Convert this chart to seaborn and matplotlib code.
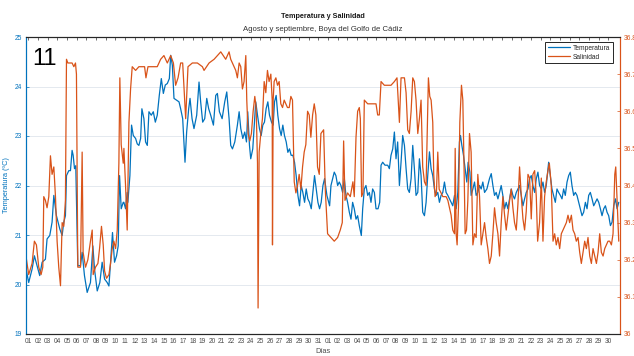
import numpy as np
import pandas as pd
import matplotlib
matplotlib.use("Agg")
import matplotlib.pyplot as plt
from matplotlib.lines import Line2D
import seaborn as sns

# ---- data (days since 01 Aug) ----
temp_day = [-0.31, 0.03, 0.38, 0.62, 0.90, 1.17, 1.42, 1.76, 1.93, 2.21, 2.45, 2.63, 2.90, 3.25, 3.49,
            3.66, 3.83, 3.94, 4.18, 4.35, 4.52, 4.63, 4.77, 4.90, 5.11, 5.39, 5.56, 5.80, 6.08, 6.42,
            6.67, 6.84, 7.12, 7.39, 7.63, 7.88, 8.15, 8.33, 8.50, 8.70, 8.91, 9.12, 9.29, 9.43, 9.60,
            9.81, 9.88, 10.05, 10.22, 10.29, 10.50, 10.67, 10.85, 11.09, 11.26, 11.43, 11.61, 11.74,
            11.95, 12.12, 12.30, 12.47, 12.71, 12.92, 13.13, 13.33, 13.54, 13.75, 13.96, 14.16, 14.37,
            14.58, 14.72, 14.89, 15.06, 15.58, 15.75, 15.96, 16.20, 16.37, 16.58, 16.72, 16.93, 17.13,
            17.41, 17.65, 17.82, 18.03, 18.24, 18.45, 18.65, 18.86, 19.14, 19.38, 19.55, 19.76, 20.04,
            20.31, 20.52, 20.76, 20.93, 21.11, 21.35, 21.62, 21.80, 21.97, 22.18, 22.38, 22.56, 22.69,
            22.87, 23.00, 23.21, 23.38, 23.52, 23.70, 23.90, 24.08, 24.25, 24.42, 24.59, 24.77, 24.94,
            25.15, 25.32, 25.46, 25.63, 25.80, 25.98, 26.15, 26.32, 26.49, 26.67, 26.84, 27.01, 27.18,
            27.36, 27.53, 27.70, 27.88, 28.05, 28.22, 28.39, 28.57, 28.74, 28.91, 29.08, 29.26, 29.43,
            29.60, 29.77, 29.95, 30.12, 30.29, 30.47, 30.64, 30.88, 31.16, 31.30, 31.64, 31.81, 31.99,
            32.16, 32.33, 32.50, 32.68, 32.85, 33.02, 33.20, 33.37, 33.54, 33.71, 33.89, 34.06, 34.23,
            34.44, 34.58, 34.75, 34.92, 35.10, 35.27, 35.44, 35.61, 35.79, 35.96, 36.17, 36.34, 36.48,
            36.65, 36.89, 37.17, 37.34, 37.51, 37.69, 37.86, 38.03, 38.20, 38.38, 38.55, 38.72, 38.90,
            39.07, 39.24, 39.41, 39.59, 39.76, 39.93, 40.10, 40.28, 40.45, 40.62, 40.79, 40.97, 41.14,
            41.31, 41.49, 41.66, 41.83, 42.00, 42.18, 42.35, 42.52, 42.69, 42.87, 43.04, 43.21, 43.39,
            43.56, 43.73, 43.90, 44.08, 44.25, 44.42, 44.59, 44.70, 44.84, 45.01, 45.18, 45.35, 45.49,
            45.67, 45.80, 45.98, 46.15, 46.32, 46.49, 46.67, 46.84, 47.01, 47.19, 47.43, 47.70, 47.88,
            48.05, 48.22, 48.39, 48.57, 48.74, 48.91, 49.08, 49.26, 49.43, 49.60, 49.78, 49.95, 50.12,
            50.29, 50.47, 50.64, 50.81, 50.99, 51.16, 51.33, 51.50, 51.68, 51.85, 52.02, 52.19, 52.37,
            52.54, 52.71, 52.88, 53.06, 53.23, 53.40, 53.57, 53.82, 53.99, 54.16, 54.33, 54.51, 54.68,
            54.85, 55.03, 55.20, 55.37, 55.54, 55.72, 55.89, 56.06, 56.23, 56.41, 56.58, 56.75, 56.93,
            57.10, 57.27, 57.44, 57.62, 57.79, 57.96, 58.13, 58.31, 58.48, 58.65, 58.83, 59.00, 59.17,
            59.34, 59.52, 59.69, 59.86, 60.03, 60.21, 60.38, 60.55, 60.73, 60.90, 61.07]
temp_val = [20.38, 20.04, 20.31, 20.58, 20.38, 20.18, 20.45, 20.51, 20.92, 20.99, 21.26, 21.80, 21.39, 21.12, 20.99,
            21.26, 21.39, 22.20, 22.30, 22.30, 22.71, 22.61, 22.34, 22.40, 20.38, 20.38, 20.65, 20.18, 19.84, 20.04,
            20.78, 20.31, 19.87, 20.04, 20.45, 20.11, 20.04, 19.97, 20.45, 21.05, 20.45, 20.58, 20.78, 22.20, 21.53,
            21.66, 21.66, 21.53, 21.86, 21.66, 22.20, 23.22, 23.01, 22.95, 22.84, 22.81, 22.95, 23.55,
            23.35, 22.88, 22.81, 23.49, 23.42, 23.49, 23.28, 23.42, 23.82, 24.16, 23.86, 24.03, 24.06,
            24.16, 24.63, 24.43, 23.76, 23.69, 23.55, 23.35, 22.47, 23.08, 23.55, 23.76, 23.35, 23.15,
            23.42, 24.09, 23.69, 23.28, 23.35, 23.76, 23.55, 23.42, 23.22, 23.82, 23.86, 23.49, 23.35,
            23.69, 23.89, 23.35, 22.81, 22.74, 22.88, 23.22, 23.49, 23.15, 22.95, 23.08, 22.88, 23.49,
            22.81, 22.54, 22.74, 23.28, 23.69, 23.42, 23.15, 23.01, 23.22, 23.28, 23.55, 23.69, 23.42,
            23.28, 23.22, 23.69, 23.82, 23.42, 23.15, 23.01, 23.22, 23.01, 22.88, 22.67, 22.74, 22.61,
            22.61, 22.47, 22.20, 21.80, 21.59, 22.00, 21.86, 21.66, 21.93, 21.73, 21.66, 21.53, 21.86,
            22.20, 21.93, 21.66, 21.53, 21.66, 22.00, 22.14, 21.80, 21.59, 22.00, 22.27, 22.20, 22.00,
            22.07, 22.00, 21.86, 22.14, 21.80, 21.66, 21.46, 21.32, 21.66, 21.53, 21.32, 21.39, 21.19,
            20.99, 21.53, 21.93, 22.00, 21.80, 21.86, 21.66, 21.93, 21.86, 21.53, 21.53, 21.66, 22.41,
            22.47, 22.41, 22.41, 22.34, 22.61, 22.74, 23.08, 22.54, 22.88, 22.00, 22.47, 23.01, 22.81,
            22.34, 21.93, 21.86, 22.14, 22.81, 22.34, 21.80, 21.86, 22.54, 22.20, 21.46, 21.39, 21.66,
            22.20, 22.68, 22.34, 22.20, 21.93, 21.80, 21.86, 21.66, 21.80, 21.86, 22.07, 21.86, 21.80,
            21.73, 21.66, 21.59, 21.80, 21.53, 21.86, 22.88, 23.01, 22.81, 22.61, 22.34, 22.07, 22.47,
            22.27, 21.80, 21.93, 22.07, 21.80, 21.86, 22.00, 21.93, 22.07, 21.86, 21.93, 22.14, 22.24,
            22.00, 21.80, 21.86, 21.73, 21.86, 22.00, 21.80, 21.53, 21.66, 21.53, 21.73, 21.93, 21.80,
            21.73, 21.86, 21.93, 22.00, 21.80, 21.59, 21.73, 21.86, 21.93, 22.14, 22.20, 22.00, 21.86,
            22.14, 22.27, 22.00, 21.93, 22.07, 21.86, 22.00, 22.47, 22.20, 21.93, 21.80, 21.66, 21.93,
            21.86, 21.80, 21.73, 21.93, 21.80, 22.07, 22.20, 22.27, 22.00, 21.80, 21.86, 21.80, 21.66,
            21.53, 21.39, 21.46, 21.66, 21.53, 21.80, 21.86, 21.73, 21.59, 21.66, 21.73, 21.66, 21.53,
            21.39, 21.53, 21.59, 21.46, 21.39, 21.19, 21.26, 21.59, 21.73, 21.53, 21.66]

sal_day = [-0.31, 0.03, 0.38, 0.62, 0.83, 1.07, 1.31, 1.49, 1.59, 1.76, 1.93, 2.11, 2.28, 2.45, 2.63,
           2.80, 2.97, 3.14, 3.32, 3.49, 3.66, 3.83, 3.94, 4.08, 4.35, 4.52, 4.70, 4.87, 4.97, 5.11,
           5.39, 5.56, 5.66, 5.91, 6.15, 6.42, 6.60, 6.70, 6.94, 7.19, 7.36, 7.56, 7.74, 7.88, 8.08,
           8.33, 8.50, 8.67, 8.84, 9.02, 9.19, 9.36, 9.46, 9.60, 9.81, 9.88, 10.05, 10.22, 10.40,
           10.57, 10.74, 11.09, 11.43, 11.78, 12.02, 12.16, 12.37, 12.81, 13.33, 13.68, 14.02, 14.37,
           14.72, 15.00, 15.23, 15.48, 15.75, 15.96, 16.27, 16.51, 16.96, 17.48, 18.00, 18.17, 18.69,
           19.21, 19.55, 19.90, 20.41, 20.76, 20.93, 21.28, 21.45, 21.62, 21.80, 21.97, 22.14, 22.31,
           22.49, 22.59, 22.73, 22.90, 23.07, 23.25, 23.42, 23.56, 23.70, 23.76, 23.87, 24.04, 24.21,
           24.39, 24.56, 24.73, 24.90, 25.08, 25.22, 25.25, 25.32, 25.42, 25.60, 25.77, 25.94, 26.11,
           26.29, 26.46, 26.63, 26.80, 26.98, 27.15, 27.32, 27.50, 27.67, 27.84, 28.01, 28.19, 28.36,
           28.53, 28.70, 28.88, 29.05, 29.22, 29.40, 29.57, 29.74, 29.91, 30.09, 30.26, 30.54, 30.71,
           30.95, 31.30, 31.64, 31.99, 32.26, 32.47, 32.61, 32.75, 33.02, 33.30, 33.57, 33.71, 33.89,
           34.06, 34.23, 34.34, 34.47, 34.61, 34.75, 35.10, 35.44, 35.79, 35.96, 36.13, 36.30, 36.48,
           36.82, 37.17, 37.51, 37.86, 38.13, 38.38, 38.55, 38.90, 39.07, 39.24, 39.41, 39.59, 39.76,
           39.93, 40.10, 40.28, 40.45, 40.62, 40.79, 40.97, 41.14, 41.38, 41.52, 41.66, 41.83, 41.93,
           42.07, 42.21, 42.35, 42.49, 42.69, 42.87, 43.04, 43.21, 43.39, 43.56, 43.73, 43.90, 44.08,
           44.15, 44.25, 44.35, 44.49, 44.63, 44.80, 44.94, 45.08, 45.18, 45.32, 45.46, 45.63, 45.80,
           45.98, 46.15, 46.32, 46.49, 46.67, 46.84, 47.01, 47.19, 47.36, 47.53, 47.70, 47.88, 48.05,
           48.22, 48.39, 48.57, 48.74, 48.91, 49.08, 49.26, 49.43, 49.60, 49.78, 49.95, 50.12, 50.29,
           50.47, 50.64, 50.81, 50.99, 51.16, 51.33, 51.50, 51.68, 51.85, 52.02, 52.19, 52.37, 52.54,
           52.68, 52.88, 53.06, 53.23, 53.40, 53.57, 53.75, 53.89, 54.09, 54.27, 54.44, 54.61, 54.78,
           54.96, 55.13, 55.30, 55.47, 55.65, 55.82, 55.99, 56.17, 56.34, 56.51, 56.68, 56.86, 57.03,
           57.20, 57.37, 57.55, 57.72, 57.89, 58.07, 58.24, 58.41, 58.58, 58.76, 58.93, 59.10, 59.27,
           59.45, 59.62, 59.79, 59.96, 60.14, 60.31, 60.48, 60.66, 60.76, 60.90, 61.07]
sal_val = [36.22, 36.16, 36.19, 36.25, 36.24, 36.18, 36.16, 36.18, 36.37, 36.36, 36.34, 36.37, 36.48, 36.43, 36.45,
           36.37, 36.25, 36.18, 36.13, 36.30, 36.29, 36.36, 36.74, 36.73, 36.73, 36.73, 36.72, 36.73, 36.70, 36.18,
           36.18, 36.49, 36.22, 36.18, 36.20, 36.25, 36.28, 36.16, 36.18, 36.19, 36.23, 36.29, 36.24, 36.17, 36.15,
           36.16, 36.19, 36.23, 36.25, 36.23, 36.28, 36.46, 36.69, 36.51, 36.46, 36.50, 36.40, 36.28, 36.57,
           36.66, 36.72, 36.71, 36.72, 36.72, 36.72, 36.69, 36.72, 36.72, 36.72, 36.74, 36.75, 36.73,
           36.75, 36.73, 36.67, 36.69, 36.73, 36.73, 36.58, 36.72, 36.73, 36.73, 36.72, 36.71, 36.73,
           36.74, 36.75, 36.76, 36.74, 36.76, 36.74, 36.72, 36.71, 36.69, 36.73, 36.72, 36.66, 36.68,
           36.75, 36.63, 36.54, 36.52, 36.54, 36.60, 36.64, 36.61, 36.46, 36.07, 36.49, 36.54, 36.58,
           36.68, 36.65, 36.71, 36.68, 36.70, 36.63, 36.24, 36.63, 36.68, 36.69, 36.67, 36.68, 36.62,
           36.61, 36.63, 36.62, 36.61, 36.61, 36.64, 36.63, 36.41, 36.38, 36.40, 36.43, 36.39, 36.45,
           36.49, 36.51, 36.60, 36.59, 36.53, 36.59, 36.62, 36.59, 36.45, 36.43, 36.54, 36.55, 36.39,
           36.27, 36.26, 36.25, 36.26, 36.28, 36.30, 36.52, 36.36, 36.38, 36.37, 36.41, 36.37, 36.53,
           36.60, 36.61, 36.58, 36.37, 36.38, 36.63, 36.62, 36.62, 36.62, 36.62, 36.59, 36.59, 36.68,
           36.67, 36.67, 36.67, 36.68, 36.69, 36.57, 36.69, 36.69, 36.65, 36.55, 36.54, 36.60, 36.69,
           36.68, 36.63, 36.54, 36.58, 36.63, 36.45, 36.41, 36.40, 36.69, 36.64, 36.63, 36.57, 36.43,
           36.37, 36.38, 36.49, 36.39, 36.38, 36.37, 36.37, 36.37, 36.36, 36.34, 36.32, 36.28, 36.27,
           36.50, 36.27, 36.24, 36.34, 36.57, 36.67, 36.63, 36.43, 36.27, 36.28, 36.36, 36.54, 36.49,
           36.24, 36.27, 36.26, 36.43, 36.37, 36.24, 36.27, 36.30, 36.26, 36.23, 36.19, 36.21, 36.27,
           36.34, 36.30, 36.27, 36.21, 36.30, 36.37, 36.32, 36.28, 36.32, 36.36, 36.39, 36.34, 36.30,
           36.28, 36.35, 36.45, 36.37, 36.31, 36.28, 36.33, 36.43, 36.42, 36.31, 36.43, 36.44, 36.37,
           36.25, 36.30, 36.42, 36.25, 36.37, 36.41, 36.44, 36.46, 36.40, 36.25, 36.27, 36.24, 36.26,
           36.23, 36.27, 36.28, 36.29, 36.30, 36.32, 36.30, 36.32, 36.28, 36.27, 36.25, 36.26, 36.22,
           36.19, 36.22, 36.25, 36.23, 36.26, 36.21, 36.19, 36.23, 36.21, 36.19, 36.22, 36.27, 36.22,
           36.21, 36.23, 36.24, 36.25, 36.25, 36.24, 36.27, 36.43, 36.45, 36.36, 36.25]

day_ticks = list(range(0, 61))
day_labels = ["%02d" % d for d in range(1, 32)] + ["%02d" % d for d in range(1, 31)]
temp_ticks = [19, 20, 21, 22, 23, 24, 25]
sal_ticks = [36.0, 36.1, 36.2, 36.3, 36.4, 36.5, 36.6, 36.7, 36.8]
sal_labels = ["36", "36.1", "36.2", "36.3", "36.4", "36.5", "36.6", "36.7", "36.8"]

BLUE = "#0072BD"
ORANGE = "#D95319"
GRAY = "#4d4d4d"

df_t = pd.DataFrame({"day": temp_day, "temp": temp_val})
df_s = pd.DataFrame({"day": sal_day, "sal": sal_val})

sns.set_theme(style="white")
plt.rcParams["font.family"] = ["Liberation Sans", "DejaVu Sans"]

W, H = 634, 356
fig = plt.figure(figsize=(W / 100, H / 100), dpi=100)
L, R, T, B = 25.5, 620.0, 37.0, 334.0
ax = fig.add_axes([L / W, 1 - B / H, (R - L) / W, (B - T) / H])
ax2 = ax.twinx()

sns.lineplot(data=df_t, x="day", y="temp", ax=ax, color=BLUE, lw=0.9,
             estimator=None, sort=False, legend=False)
sns.lineplot(data=df_s, x="day", y="sal", ax=ax2, color=ORANGE, lw=0.9,
             estimator=None, sort=False, legend=False)

ax.set_xlim(-0.3, 61.2)
ax.set_ylim(19, 25)
ax2.set_ylim(36, 36.8)

ax.set_xticks(day_ticks)
ax.set_xticklabels(day_labels)
ax.set_yticks(temp_ticks)
ax2.set_yticks(sal_ticks)
ax2.set_yticklabels(sal_labels)

ax.yaxis.grid(True, color="#e4e9ef", lw=0.7)
ax.set_axisbelow(True)

ax.tick_params(axis="x", direction="in", length=2, width=0.5, top=True, labelsize=4.8,
               labelcolor=GRAY, color="#333333", pad=3)
ax.tick_params(axis="y", direction="in", length=2, width=0.5, labelsize=4.8,
               labelcolor=BLUE, color=BLUE, pad=2.5)
ax2.tick_params(axis="y", direction="in", length=2, width=0.5, labelsize=4.8,
                labelcolor=ORANGE, color=ORANGE, pad=2.5)

for a in (ax, ax2):
    a.spines["top"].set_color("#262626")
    a.spines["bottom"].set_color("#262626")
    a.spines["left"].set_color(BLUE)
    a.spines["right"].set_color(ORANGE)
    for s in a.spines.values():
        s.set_linewidth(0.8)

ax.set_xlabel("Días", fontsize=5.3, color=GRAY, labelpad=2)
ax.set_ylabel("Temperatura (ºC)", fontsize=5.3, color=BLUE, labelpad=3)
ax2.set_ylabel("")

handles = [Line2D([], [], color=BLUE, lw=0.9), Line2D([], [], color=ORANGE, lw=0.9)]
leg = ax2.legend(handles, ["Temperatura", "Salinidad"], loc="upper right",
                 bbox_to_anchor=((613 - L) / (R - L), (B - 42) / (B - T)),
                 borderaxespad=0, fontsize=4.8, handlelength=3.3, frameon=True,
                 fancybox=False, framealpha=1, edgecolor="#262626",
                 borderpad=0.4, labelspacing=0.3, handletextpad=0.5)
leg.get_frame().set_linewidth(0.7)
for txt in leg.get_texts():
    txt.set_color("#262626")

cx = (L + R) / 2 / W
fig.text(cx, 1 - 16.5 / H, "Temperatura y Salinidad", ha="center", va="center",
         fontsize=5.2, fontweight="bold", color="#1a1a1a")
fig.text(cx, 1 - 29.5 / H, "Agosto y septiembre, Boya del Golfo de Cádiz", ha="center",
         va="center", fontsize=5.6, color="#333333")
fig.text(32 / W, 1 - 65 / H, "11", ha="left", va="baseline", fontsize=17, color="black")

fig.savefig("out.png", dpi=100)
